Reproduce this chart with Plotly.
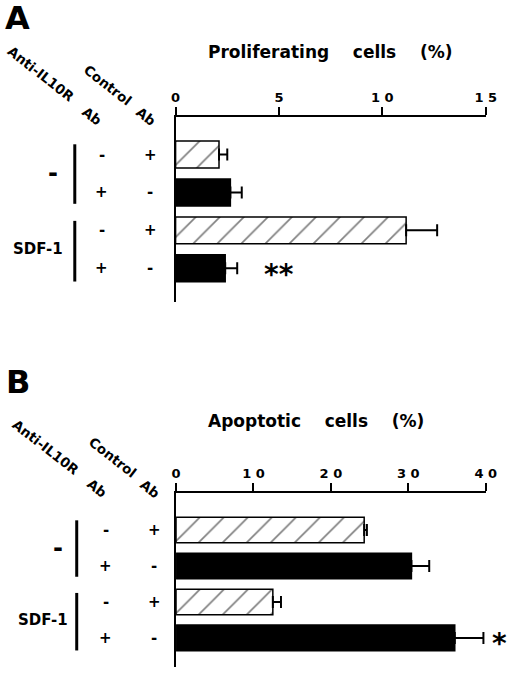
import plotly.graph_objects as go

# row order, top to bottom, in both panels
rows = ["-, Control Ab", "-, Anti-IL10R Ab", "SDF-1, Control Ab", "SDF-1, Anti-IL10R Ab"]
anti_il10r_marks = ["-", "+", "-", "+"]
control_ab_marks = ["+", "-", "+", "-"]
sdf_groups = ["-", "SDF-1"]

# panel A: proliferating cells (%)
prolif_control = [2.1, 11.15]
prolif_control_err = [0.4, 1.5]
prolif_anti = [2.65, 2.4]
prolif_anti_err = [0.55, 0.58]
prolif_ticks = [0, 5, 10, 15]
prolif_ticktext = ["0", "5", "1 0", "1 5"]

# panel B: apoptotic cells (%)
apopt_control = [24.3, 12.5]
apopt_control_err = [0.35, 1.05]
apopt_anti = [30.4, 36.0]
apopt_anti_err = [2.3, 3.7]
apopt_ticks = [0, 10, 20, 30, 40]
apopt_ticktext = ["0", "1 0", "2 0", "3 0", "4 0"]

W, H = 520, 678
FONT = "DejaVu Sans"
NB = "\u00a0"


def px(x):
    return x / W


def py(y):
    return 1 - y / H


def bold(size):
    return dict(family=FONT, size=size, color="black", weight=700)


def note(text, x, y, xref="paper", yref="paper", size=14, **kw):
    # centred text, no arrow
    return dict(text=text, x=x, y=y, xref=xref, yref=yref, xanchor="center",
                yanchor="middle", showarrow=False, font=bold(size), **kw)


fig = go.Figure()


def add_bars(xa, ya, control, control_err, anti, anti_err):
    err_style = dict(type="data", symmetric=False, color="black", thickness=2, width=6)
    fig.add_trace(go.Bar(
        x=control, y=[rows[0], rows[2]], orientation="h", xaxis=xa, yaxis=ya,
        marker=dict(color="white", line=dict(color="black", width=1.5),
                    pattern=dict(shape="/", fgcolor="black", bgcolor="white",
                                 size=17, solidity=0.1)),
        error_x=dict(array=control_err, arrayminus=[0] * len(control), **err_style),
        showlegend=False,
    ))
    fig.add_trace(go.Bar(
        x=anti, y=[rows[1], rows[3]], orientation="h", xaxis=xa, yaxis=ya,
        marker=dict(color="black", line=dict(color="black", width=1.5)),
        error_x=dict(array=anti_err, arrayminus=[0] * len(anti), **err_style),
        showlegend=False,
    ))


add_bars("x", "y", prolif_control, prolif_control_err, prolif_anti, prolif_anti_err)
add_bars("x2", "y2", apopt_control, apopt_control_err, apopt_anti, apopt_anti_err)


def xaxis_style(domain, rng, ticks, ticktext, anchor):
    return dict(
        domain=domain, range=rng, side="top", anchor=anchor,
        showline=True, linewidth=2, linecolor="black",
        ticks="outside", ticklen=8, tickwidth=2, tickcolor="black",
        tickvals=ticks, ticktext=ticktext, tickfont=bold(13),
        showgrid=False, zeroline=False, fixedrange=True,
    )


def yaxis_style(domain, rng, anchor):
    return dict(
        domain=domain, range=rng, type="category", categoryorder="array",
        categoryarray=rows, anchor=anchor,
        showline=True, linewidth=2, linecolor="black",
        showticklabels=False, ticks="", showgrid=False, zeroline=False,
        fixedrange=True,
    )


fig.update_layout(
    width=W, height=H,
    margin=dict(l=0, r=0, t=0, b=0),
    paper_bgcolor="white", plot_bgcolor="white",
    barmode="overlay", bargap=0.29,
    xaxis=xaxis_style([px(176), px(496)], [0, 15], prolif_ticks, prolif_ticktext, "y"),
    yaxis=yaxis_style([py(302), py(117)], [3.89, -0.99], "x"),
    xaxis2=xaxis_style([px(176.5), px(496)], [0, 40], apopt_ticks, apopt_ticktext, "y2"),
    yaxis2=yaxis_style([py(667), py(493)], [3.81, -1.03], "x2"),
)

annotations = []
shapes = []


def add_labels(panel, letter_y, yref, title, title_x, title_y, col_x, group_x, line_x):
    annotations.append(note(panel, px(13), py(letter_y), size=32))
    annotations.append(note(title, px(title_x), py(title_y), size=17))
    # +/- columns
    for i, row in enumerate(rows):
        for x, mark in zip(col_x, [anti_il10r_marks[i], control_ab_marks[i]]):
            annotations.append(note(mark, px(x), row, yref=yref, size=15))
    # group labels and bracket lines
    annotations.append(note(sdf_groups[0], px(group_x[0]), 0.5, yref=yref, size=24))
    annotations.append(note(sdf_groups[1], px(group_x[1]), 2.5, yref=yref, size=15))
    for y0, y1 in [(-0.27, 1.3), (1.75, 3.35)]:
        shapes.append(dict(type="line", xref="paper", yref=yref, x0=px(line_x), x1=px(line_x),
                           y0=y0, y1=y1, line=dict(color="black", width=3)))


def add_headers(centers):
    for text, (cx, cy) in zip(["Anti-IL10R", "Ab", "Control", "Ab"], centers):
        annotations.append(note(text, px(cx), py(cy), size=13.5, textangle=38))


add_labels("A", 18, "y", "Proliferating" + NB * 4 + "cells" + NB * 4 + "(%)", 335.5, 52,
           [100, 150], [50, 34], 72)
add_labels("B", 382, "y2", "Apoptotic" + NB * 4 + "cells" + NB * 4 + "(%)", 321, 421,
           [104, 154], [55, 39], 74)
add_headers([(37.5, 74), (90, 116), (106, 85), (145, 116)])
add_headers([(42, 447), (95, 488), (111, 457), (150, 489)])

# significance marks
annotations.append(note("**", 5.0, rows[3], xref="x", yref="y", size=28, yshift=-6))
annotations.append(note("*", px(510), rows[3], yref="y2", size=28, yshift=-6))

fig.update_layout(annotations=annotations, shapes=shapes)

# drop the default 8px page margin so the figure sits at the window's corner
fig.write_html("out.html", config={"displayModeBar": False},
               post_script="document.body.style.margin = '0';")
